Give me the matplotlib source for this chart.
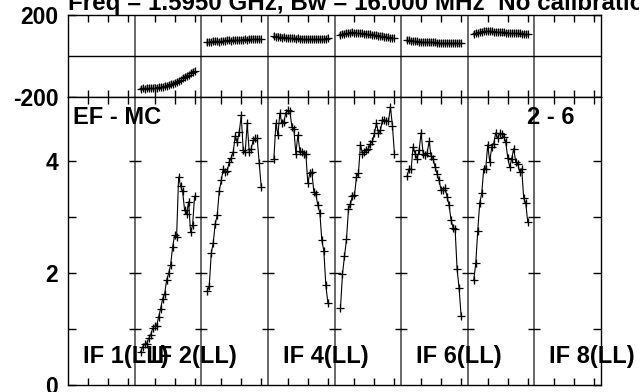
import numpy as np
import matplotlib.pyplot as plt

plt.rcParams['font.family'] = ['Liberation Sans', 'DejaVu Sans']
plt.rcParams['font.weight'] = 'bold'

# channels kept in each IF (edges flagged)
chans = np.arange(3, 31)

# amplitude per IF panel (IF panels 1 and 8 have no data)
amp2 = [0.59, 0.68, 0.73, 0.74, 0.83, 0.89, 1.01, 1.05, 1.06, 1.21, 1.36, 1.54, 1.62, 1.87,
        1.99, 2.14, 2.46, 2.67, 2.64, 3.71, 3.55, 3.46, 3.12, 3.06, 3.27, 2.73, 2.85, 3.37]
amp3 = [1.67, 1.77, 2.35, 2.54, 2.88, 3.03, 3.46, 3.65, 3.85, 3.80, 3.82, 3.98, 4.05, 4.16,
        4.44, 4.34, 4.51, 4.81, 4.19, 4.16, 4.67, 4.16, 4.22, 4.37, 4.40, 4.40, 3.96, 3.54]
amp4 = [4.03, 4.67, 4.46, 4.85, 4.67, 4.70, 4.86, 4.90, 4.89, 4.61, 4.56, 4.13, 4.46, 4.18,
        4.16, 4.13, 4.12, 3.60, 3.79, 3.80, 3.45, 3.40, 3.21, 3.07, 2.58, 2.39, 1.78, 1.47]
amp5 = [1.38, 1.98, 2.30, 2.60, 3.14, 3.23, 3.38, 3.39, 3.71, 3.79, 4.29, 4.13, 4.16, 4.19,
        4.22, 4.31, 4.35, 4.50, 4.67, 4.49, 4.55, 4.73, 4.73, 4.71, 4.71, 4.96, 4.62, 4.12]
amp6 = [3.73, 3.86, 3.85, 4.25, 4.13, 4.04, 4.19, 4.50, 4.13, 4.10, 4.14, 4.35, 4.08, 4.04,
        3.89, 3.77, 3.65, 3.48, 3.48, 3.52, 3.36, 3.21, 2.94, 2.81, 2.79, 2.07, 1.73, 1.24]
amp7 = [1.87, 2.17, 2.75, 3.25, 3.42, 3.86, 3.86, 4.29, 3.98, 4.25, 4.31, 4.50, 4.40, 4.49,
        4.48, 4.43, 4.34, 4.06, 3.89, 4.04, 4.22, 3.98, 3.95, 3.80, 3.86, 3.33, 3.25, 2.91]

# phase (degrees) per IF panel
ph2 = [-160, -158, -159, -157, -156, -157, -155, -154, -155, -153, -151, -150, -148, -146,
       -142, -139, -135, -131, -126, -120, -115, -109, -103, -97, -91, -85, -80, -75]
ph3 = [66, 70, 68, 72, 71, 73, 70, 74, 75, 73, 76, 77, 75, 78,
       77, 79, 78, 80, 79, 81, 80, 82, 81, 83, 82, 84, 83, 85]
ph4 = [96, 94, 95, 92, 90, 91, 88, 89, 87, 86, 88, 85, 86, 84,
       85, 83, 84, 85, 83, 84, 82, 83, 84, 82, 83, 85, 84, 86]
ph5 = [104, 106, 108, 110, 112, 113, 115, 114, 112, 113, 111, 110, 109, 108,
       106, 105, 104, 102, 101, 100, 98, 97, 95, 93, 91, 89, 88, 86]
ph6 = [78, 76, 75, 74, 72, 71, 70, 70, 69, 68, 68, 67, 66, 67,
       66, 65, 65, 64, 65, 64, 63, 64, 63, 62, 63, 62, 61, 62]
ph7 = [108, 111, 114, 116, 118, 120, 121, 122, 121, 120, 119, 118, 117, 116,
       115, 115, 114, 113, 113, 112, 111, 111, 110, 110, 109, 109, 108, 108]

amp_err = 0.06
ph_err = 15

panels = {1: (amp2, ph2), 2: (amp3, ph3), 3: (amp4, ph4),
          4: (amp5, ph5), 5: (amp6, ph6), 6: (amp7, ph7)}

title = "Freq = 1.5950 GHz, Bw = 16.000 MHz  No calibration"
if_labels = ["IF 1(LL)", "IF 2(LL)", "IF 4(LL)", "IF 6(LL)", "IF 8(LL)"]

W = 100 / 3  # width of one IF panel in channel units
npan = 8

fig = plt.figure(figsize=(6.39, 3.92), dpi=100)
ax1 = fig.add_axes([68/639, 1-97/392, 533/639, 82/392])
ax2 = fig.add_axes([68/639, 1-385/392, 533/639, 288/392])

xt = [k*W + t for k in range(npan) for t in (10, 20, 30)]
for ax in (ax1, ax2):
    ax.set_xlim(0, npan*W)
    ax.set_xticks(xt)
    ax.tick_params(axis='x', direction='in', top=True, bottom=True, length=5,
                   width=1, labelbottom=False)
    ax.tick_params(axis='y', direction='in', left=True, right=True, length=6,
                   width=1, labelsize=16.5, pad=7)
    for s in ax.spines.values():
        s.set_linewidth(1)
    for k in range(1, npan):
        ax.axvline(k*W, color='#404040', lw=1.1)

ax1.set_ylim(-200, 200)
ax1.set_yticks([-200, 200])
ax1.set_yticklabels(['-200', '200'])
ax1.axhline(0, color='k', lw=1)

ax2.set_ylim(0, 5.14)
ax2.set_yticks([0, 1, 2, 3, 4])
ax2.set_yticklabels(['0', '', '2', '', '4'])
for k in range(1, npan):
    ax2.plot([k*W]*4, [1, 2, 3, 4], ls='none', marker='_', ms=8, mew=1, color='k')

for k, (a, p) in panels.items():
    x = k*W + chans
    ax2.errorbar(x, a, yerr=amp_err, fmt='none', ecolor='#999999', elinewidth=1)
    ax2.plot(x, a, color='k', lw=0.8, marker='+', ms=6, mew=0.9)
    ax1.errorbar(x, p, yerr=ph_err, fmt='none', ecolor='#999999', elinewidth=1.2)
    ax1.plot(x, p, ls='none', color='k', marker='+', ms=6, mew=0.9)

fig.text(68/639, 1-10/392, title, fontsize=17.4, va='baseline', ha='left')
fig.text(73/639, 1-124/392, "EF - MC", fontsize=17, va='baseline')
fig.text(527/639, 1-124/392, "2 - 6", fontsize=17, va='baseline')
for lab, px in zip(if_labels, [83, 151, 283, 416, 549]):
    fig.text(px/639, 1-363/392, lab, fontsize=17, va='baseline')

fig.savefig('out.png', dpi=100)
